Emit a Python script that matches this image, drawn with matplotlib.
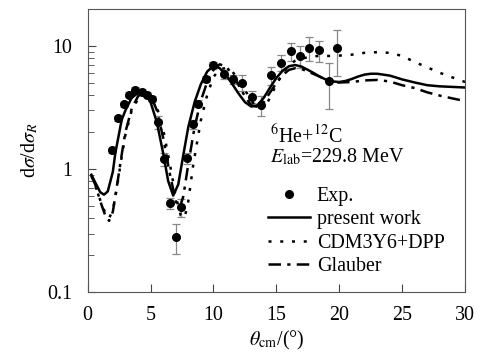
import numpy as np
import matplotlib
matplotlib.use("Agg")
import matplotlib.pyplot as plt
from matplotlib.lines import Line2D
from matplotlib.ticker import FixedLocator, FixedFormatter, LogLocator, NullFormatter

plt.rcParams['font.family'] = ['Liberation Serif', 'DejaVu Serif']
plt.rcParams['mathtext.fontset'] = 'stix'

# experimental points
exp_theta = [1.9, 2.4, 2.85, 3.25, 3.75, 4.3, 4.75, 5.15, 5.6, 6.05, 6.55, 7.0, 7.45,
             7.9, 8.35, 8.75, 9.4, 10.0, 10.85, 11.55, 12.3, 13.05, 13.8, 14.6, 15.35,
             16.15, 16.9, 17.6, 18.4, 19.15, 19.85]
exp_ratio = [1.42, 2.58, 3.35, 4.03, 4.43, 4.24, 4.03, 3.74, 2.42, 1.2, 0.53, 0.28, 0.49,
             1.22, 2.32, 3.41, 5.4, 6.97, 5.9, 5.35, 5.05, 3.88, 3.3, 5.78, 7.33,
             9.06, 8.3, 9.7, 9.2, 5.17, 9.63]
exp_err_frac = [0.05, 0.05, 0.05, 0.05, 0.05, 0.05, 0.05, 0.05, 0.12, 0.12, 0.1, 0.27, 0.17,
                0.1, 0.08, 0.06, 0.06, 0.06, 0.08, 0.08, 0.15, 0.12, 0.18, 0.17, 0.15,
                0.17, 0.2, 0.22, 0.2, 0.41, 0.41]

# present work
pw_theta = [0.3, 0.6, 1.0, 1.3, 1.6, 2.0, 2.2, 2.7, 3.0, 3.5, 4.0, 4.3, 4.7, 5.0, 5.5,
            6.0, 6.4, 6.8, 7.2, 7.6, 8.0, 8.5, 9.0, 9.5, 10.0, 10.5, 11.0, 11.5, 12.0,
            12.5, 13.0, 13.5, 14.0, 14.5, 15.0, 15.5, 16.0, 16.5, 17.0, 17.5, 18.0,
            18.5, 19.0, 19.5, 20.0, 20.5, 21.0, 21.5, 22.0, 22.5, 23.0, 23.5, 24.0,
            24.5, 25.0, 26.0, 27.0, 28.0, 29.0, 30.0]
pw_ratio = [0.9, 0.78, 0.65, 0.62, 0.66, 0.95, 1.35, 2.5, 3.0, 3.8, 4.15, 4.25, 4.0, 3.5,
            2.4, 1.35, 0.8, 0.61, 0.75, 1.3, 2.2, 3.5, 4.9, 6.2, 6.9, 6.6, 5.8, 4.9,
            4.1, 3.5, 3.22, 3.3, 3.8, 4.6, 5.5, 6.3, 6.85, 7.0, 6.8, 6.4, 6.0, 5.6,
            5.3, 5.15, 5.1, 5.2, 5.4, 5.65, 5.85, 5.95, 5.95, 5.85, 5.75, 5.55, 5.35,
            5.05, 4.8, 4.7, 4.65, 4.6]

# CDM3Y6+DPP
cdm_theta = [0.3, 0.6, 1.0, 1.4, 1.7, 2.0, 2.3, 2.7, 3.0, 3.5, 4.0, 4.5, 5.0, 5.5, 6.0,
             6.5, 7.0, 7.4, 7.7, 8.0, 8.4, 9.0, 9.5, 10.0, 10.5, 11.0, 11.5, 12.0, 12.5,
             13.0, 13.5, 14.0, 14.5, 15.0, 15.5, 16.0, 16.5, 17.0, 17.5, 18.0, 18.5,
             19.0, 19.5, 20.0, 21.0, 22.0, 23.0, 24.0, 25.0, 26.0, 27.0, 28.0, 29.0, 30.0]
cdm_ratio = [0.88, 0.74, 0.56, 0.44, 0.4, 0.46, 0.68, 1.25, 1.9, 3.0, 3.7, 4.1, 3.95, 3.2,
             2.1, 1.15, 0.6, 0.42, 0.4, 0.55, 1.1, 2.5, 4.0, 5.6, 6.5, 6.6, 6.2, 5.3, 4.4,
             3.6, 3.1, 3.1, 3.8, 4.9, 6.0, 7.0, 7.6, 7.9, 8.1, 8.25, 8.3,
             8.3, 8.3, 8.35, 8.5, 8.8, 8.9, 8.8, 8.3, 7.4, 6.7, 6.05, 5.55, 5.1]

# Glauber
gl_theta = [0.3, 0.6, 1.0, 1.4, 1.7, 2.0, 2.3, 2.7, 3.0, 3.5, 4.0, 4.5, 5.0, 5.5, 6.0,
            6.5, 7.0, 7.3, 7.6, 8.0, 8.5, 9.0, 9.5, 10.0, 10.5, 11.0, 11.5, 12.0, 12.5,
            13.0, 13.5, 14.0, 14.5, 15.0, 15.5, 16.0, 16.5, 17.0, 17.5, 18.0, 18.5,
            19.0, 19.5, 20.0, 21.0, 22.0, 23.0, 24.0, 25.0, 26.0, 27.0, 28.0, 29.0, 30.0]
gl_ratio = [0.88, 0.75, 0.55, 0.42, 0.38, 0.45, 0.7, 1.3, 2.0, 3.1, 3.9, 4.3, 4.0, 3.0,
            1.8, 0.95, 0.55, 0.48, 0.6, 1.1, 2.2, 3.6, 5.1, 6.4, 7.1, 6.8, 5.9, 4.8, 3.9,
            3.3, 3.2, 3.5, 4.2, 5.0, 5.8, 6.4, 6.6, 6.5, 6.2, 5.9, 5.6,
            5.3, 5.1, 5.05, 5.1, 5.25, 5.3, 5.15, 4.8, 4.55, 4.2, 3.95, 3.75, 3.57]

FS = 14.4

fig = plt.figure(figsize=(4.79, 3.56), dpi=100)
ax = fig.add_axes([0.183, 0.179, 0.788, 0.796])

yerr = np.array(exp_ratio) * np.array(exp_err_frac)
ax.errorbar(exp_theta, exp_ratio, yerr=yerr, fmt='o', color='black', ms=5.5,
            ecolor='#888888', elinewidth=0.9, capsize=3, capthick=0.9)
l1, = ax.plot(pw_theta, pw_ratio, '-', color='black', lw=1.8)
l2, = ax.plot(cdm_theta, cdm_ratio, color='black', lw=1.8, dashes=(1.2, 3.5))
l3, = ax.plot(gl_theta, gl_ratio, color='black', lw=1.8, dashes=(5, 2.5, 1.3, 2.5))

ax.set_yscale('log')
ax.set_xlim(0, 30)
ax.set_ylim(0.1, 20)
ax.set_xticks([0, 5, 10, 15, 20, 25, 30])
ax.yaxis.set_major_locator(FixedLocator([0.1, 1, 10]))
ax.yaxis.set_major_formatter(FixedFormatter(['0.1', '1', '10']))
ax.yaxis.set_minor_locator(LogLocator(base=10, subs=np.arange(2, 10)))
ax.yaxis.set_minor_formatter(NullFormatter())
ax.tick_params(which='both', direction='in', labelsize=FS, color='#444444')
ax.tick_params(which='major', length=6)
ax.tick_params(which='minor', length=4)
ax.tick_params(axis='x', pad=10)
ax.tick_params(axis='y', pad=11)
for s in ax.spines.values():
    s.set_color('#555555')

ax.set_xlabel(r'$\theta_{\rm cm}$/(°)', fontsize=FS, labelpad=3)
ax.set_ylabel(r'd$\sigma$/d$\sigma_R$', fontsize=FS, labelpad=5)

ax.text(14.5, 1.625, r'$^{6}$He+$^{12}$C', fontsize=FS, va='baseline')
ax.text(14.5, 1.14, r'$E_{\rm lab}$=229.8 MeV', fontsize=FS, va='baseline')

dot = Line2D([], [], ls='none', marker='o', color='black', ms=5.5)
ax.legend([dot, l1, l2, l3], ['Exp.', 'present work', 'CDM3Y6+DPP', 'Glauber'],
          loc='lower left', bbox_to_anchor=(0.435, 0.0), frameon=False, fontsize=FS,
          handlelength=2.1, handletextpad=0.35, labelspacing=0.22, borderpad=0.3)

fig.savefig('out.png', dpi=100)
